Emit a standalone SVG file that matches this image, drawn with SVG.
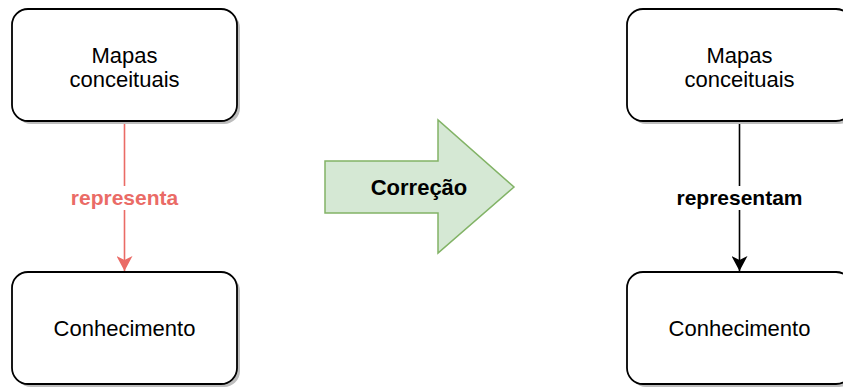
<svg xmlns="http://www.w3.org/2000/svg" width="843" height="387" viewBox="0 0 843 387">
<defs>
<style>
.box{fill:#fff;stroke:#000;stroke-width:1.8}
.shadow{fill:#bdbdbd}
.t{font-family:"Liberation Sans",Arial,Helvetica,sans-serif;font-size:22px;fill:#000;text-anchor:middle}
.lbl{font-family:"Liberation Sans",Arial,Helvetica,sans-serif;font-size:21px;font-weight:bold;text-anchor:middle}
</style>
<marker id="arrRed" viewBox="0 0 16 16" refX="15" refY="8" markerWidth="16" markerHeight="16" markerUnits="userSpaceOnUse" orient="auto">
<path d="M0,0 L15,8 L0,16 L4,8 Z" fill="#EA6B66"/>
</marker>
<marker id="arrBlack" viewBox="0 0 16 16" refX="15" refY="8" markerWidth="16" markerHeight="16" markerUnits="userSpaceOnUse" orient="auto">
<path d="M0,0 L15,8 L0,16 L4,8 Z" fill="#000"/>
</marker>
</defs>
<rect width="843" height="387" fill="#fff"/>
<g id="connectors">
<line x1="124.5" y1="121" x2="124.5" y2="271" stroke="#EA6B66" stroke-width="1.6" marker-end="url(#arrRed)"/>
<rect x="67" y="186" width="115" height="24" fill="#fff"/>
<text class="lbl" x="124.5" y="205" fill="#EA6B66">representa</text>
<line x1="739.5" y1="121" x2="739.5" y2="271" stroke="#000" stroke-width="1.6" marker-end="url(#arrBlack)"/>
<rect x="673" y="186" width="133" height="24" fill="#fff"/>
<text class="lbl" x="739.5" y="205" fill="#000">representam</text>
</g>
<g id="node-mapas-left">
<rect class="shadow" x="15" y="12" width="225" height="112" rx="16"/>
<rect class="box" x="12" y="9" width="225" height="112" rx="16"/>
<text class="t" x="124.5" y="63">Mapas</text>
<text class="t" x="124.5" y="87">conceituais</text>
</g>
<g id="node-conhecimento-left">
<rect class="shadow" x="15" y="275" width="225" height="112" rx="16"/>
<rect class="box" x="12" y="272" width="225" height="112" rx="16"/>
<text class="t" x="124.5" y="336">Conhecimento</text>
</g>
<g id="node-correcao">
<path d="M325,161 L438,161 L438,120 L514,187 L438,253 L438,213 L325,213 Z" fill="#d5e8d4" stroke="#82b366" stroke-width="1.5"/>
<text class="lbl" x="419" y="195" fill="#000" style="font-size:22px">Correção</text>
</g>
<g id="node-mapas-right">
<rect class="shadow" x="630" y="12" width="225" height="112" rx="16"/>
<rect class="box" x="627" y="9" width="225" height="112" rx="16"/>
<text class="t" x="739.5" y="63">Mapas</text>
<text class="t" x="739.5" y="87">conceituais</text>
</g>
<g id="node-conhecimento-right">
<rect class="shadow" x="630" y="275" width="225" height="112" rx="16"/>
<rect class="box" x="627" y="272" width="225" height="112" rx="16"/>
<text class="t" x="739.5" y="336">Conhecimento</text>
</g>
</svg>
